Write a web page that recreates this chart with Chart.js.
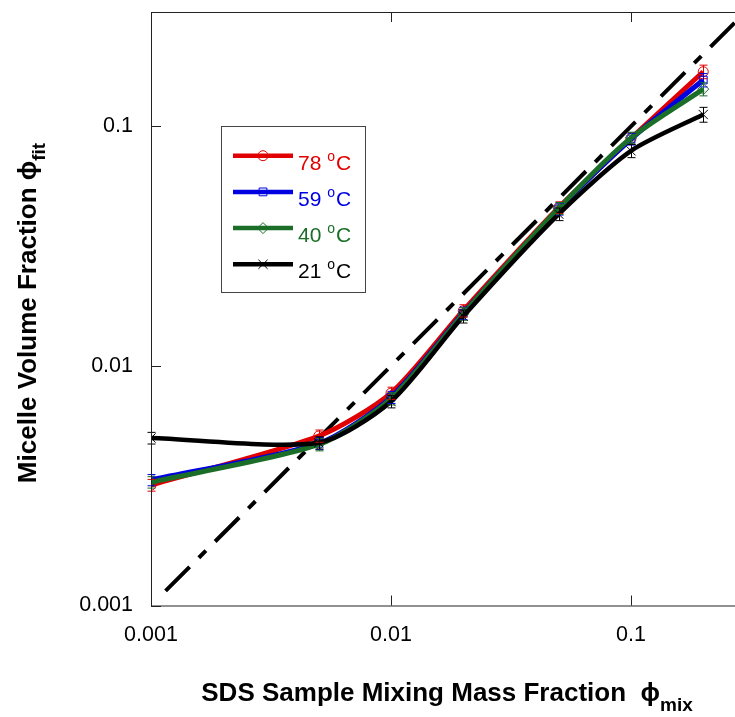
<!DOCTYPE html>
<html>
<head>
<meta charset="utf-8">
<script src="https://cdn.jsdelivr.net/npm/chart.js@4.4.0/dist/chart.umd.min.js"></script>
<style>
  html, body { margin: 0; padding: 0; background: #fff; overflow: hidden; }
  #wrap { width: 760px; height: 717px; }
</style>
</head>
<body>
<div id="wrap"><canvas id="chart" width="760" height="717"></canvas></div>
<script>
//Datos
const mixFraction = [0.001, 0.005, 0.01, 0.02, 0.05, 0.1, 0.2];
const phi78 = [0.00318, 0.0051, 0.0077, 0.0170, 0.0458, 0.0890, 0.169];
const phi59 = [0.00334, 0.00475, 0.0074, 0.0166, 0.0452, 0.0885, 0.156];
const phi40 = [0.00327, 0.00470, 0.0073, 0.0165, 0.0455, 0.0895, 0.143];
const phi21 = [0.00500, 0.00478, 0.0071, 0.0161, 0.0430, 0.0790, 0.112];
const err78 = [0.00018, 0.00030, 0.00045, 0.0010, 0.0026, 0.0050, 0.011];
const err59 = [0.00018, 0.00028, 0.00043, 0.0010, 0.0026, 0.0050, 0.010];
const err40 = [0.00018, 0.00028, 0.00043, 0.0010, 0.0026, 0.0050, 0.009];
const err21 = [0.00028, 0.00028, 0.00042, 0.0010, 0.0026, 0.0050, 0.008];
const diagX = [0.00115, 0.3];
const diagY = [0.00115, 0.3];
const temps = ["78", "59", "40", "21"];
const tickValues = [0.001, 0.01, 0.1];
const tickLabels = ["0.001", "0.01", "0.1"];

const colors = ["#e00000", "#0000e0", "#1a6e28", "#000000"];
const styles = ["circle", "rect", "rectRot", "crossRot"];
const radii = [5, 5.5, 5.5, 6.5];
const FONT = "'Liberation Sans', Arial, 'DejaVu Sans', sans-serif";

Chart.defaults.font.family = FONT;
Chart.defaults.color = "#000";

const toPoints = (xs, ys) => xs.map((v, i) => ({ x: v, y: ys[i] }));
const seriesY = [phi78, phi59, phi40, phi21];
const seriesErr = [err78, err59, err40, err21];

const datasets = seriesY.map((ys, i) => ({
  label: temps[i] + " °C",
  data: toPoints(mixFraction, ys),
  errors: seriesErr[i],
  borderColor: colors[i],
  backgroundColor: colors[i],
  borderWidth: i === 3 ? 4.5 : 5,
  tension: 0.25,
  pointStyle: styles[i],
  pointRadius: radii[i],
  pointBorderWidth: 1,
  pointBackgroundColor: "rgba(0,0,0,0)",
  pointBorderColor: colors[i],
  order: 4 - i,
}));

datasets.push({
  label: "y = x",
  data: toPoints(diagX, diagY),
  borderColor: "#000",
  borderWidth: 4,
  borderDash: [34, 13, 10, 13],
  pointRadius: 0,
  tension: 0,
  order: 5,
});

//Barras de error
const errorBars = {
  id: "errorBars",
  afterDatasetsDraw(chart) {
    const ctx = chart.ctx;
    const xs = chart.scales.x, ys = chart.scales.y;
    chart.data.datasets.forEach(ds => {
      if (!ds.errors) return;
      ctx.save();
      ctx.strokeStyle = ds.borderColor;
      ctx.lineWidth = 1;
      ctx.beginPath();
      ds.data.forEach((p, i) => {
        const px = Math.round(xs.getPixelForValue(p.x)) + 0.5;
        const top = ys.getPixelForValue(p.y + ds.errors[i]);
        const bot = ys.getPixelForValue(p.y - ds.errors[i]);
        ctx.moveTo(px, top); ctx.lineTo(px, bot);
        ctx.moveTo(px - 4, top); ctx.lineTo(px + 4, top);
        ctx.moveTo(px - 4, bot); ctx.lineTo(px + 4, bot);
      });
      ctx.stroke();
      ctx.restore();
    });
  }
};

//Texto con subindice
function composite(ctx, parts, cx, baseY) {
  let total = 0;
  parts.forEach(p => { ctx.font = p.font; p.w = ctx.measureText(p.text).width; total += p.w; });
  let x = cx - total / 2;
  ctx.textAlign = "left";
  ctx.textBaseline = "alphabetic";
  parts.forEach(p => {
    ctx.font = p.font;
    ctx.fillText(p.text, x, baseY + (p.dy || 0));
    x += p.w;
  });
}

//Marco, ticks hacia dentro, titulos y leyenda
const frame = {
  id: "frame",
  afterDraw(chart) {
    const { ctx, chartArea: a, scales: { x, y } } = chart;
    ctx.save();
    ctx.strokeStyle = "#222";
    ctx.lineWidth = 1;
    ctx.strokeRect(a.left + 0.5, a.top + 0.5, a.right - a.left, a.bottom - a.top);
    ctx.beginPath();
    tickValues.forEach(v => {
      const px = Math.round(x.getPixelForValue(v)) + 0.5;
      ctx.moveTo(px, a.bottom); ctx.lineTo(px, a.bottom - 10);
      ctx.moveTo(px, a.top); ctx.lineTo(px, a.top + 10);
      const py = Math.round(y.getPixelForValue(v)) + 0.5;
      ctx.moveTo(a.left, py); ctx.lineTo(a.left + 10, py);
      ctx.moveTo(a.right, py); ctx.lineTo(a.right - 10, py);
    });
    ctx.stroke();

    ctx.fillStyle = "#000";
    composite(ctx, [
      { text: "SDS Sample Mixing Mass Fraction  ", font: "bold 26px " + FONT },
      { text: "ϕ", font: "bold 26px " + FONT },
      { text: "mix", font: "bold 19px " + FONT, dy: 10 },
    ], 447, 701);

    ctx.save();
    ctx.translate(36, 313);
    ctx.rotate(-Math.PI / 2);
    composite(ctx, [
      { text: "Micelle Volume Fraction ", font: "bold 26px " + FONT },
      { text: "ϕ", font: "bold 26px " + FONT },
      { text: "fit", font: "bold 19px " + FONT, dy: 9 },
    ], 0, 0);
    ctx.restore();

    //Leyenda
    ctx.fillStyle = "#fff";
    ctx.fillRect(221.5, 126.5, 144, 166);
    ctx.strokeStyle = "#444";
    ctx.lineWidth = 1;
    ctx.strokeRect(221.5, 126.5, 144, 166);
    temps.forEach((t, i) => {
      const yy = 155.7 + i * 36.2;
      ctx.strokeStyle = colors[i];
      ctx.lineWidth = 4.5;
      ctx.beginPath(); ctx.moveTo(233, yy); ctx.lineTo(293, yy); ctx.stroke();
      ctx.lineWidth = 1;
      ctx.fillStyle = "rgba(0,0,0,0)";
      Chart.helpers.drawPoint(ctx, { pointStyle: styles[i], radius: radii[i], borderWidth: 1, rotation: 0 }, 263, yy);
      ctx.fillStyle = colors[i];
      ctx.textAlign = "left";
      ctx.textBaseline = "alphabetic";
      ctx.font = "21px " + FONT;
      let tx = 298;
      ctx.fillText(t + " ", tx, yy + 14);
      tx += ctx.measureText(t + " ").width;
      ctx.font = "14px " + FONT;
      ctx.fillText("o", tx, yy + 5);
      tx += ctx.measureText("o").width + 1;
      ctx.font = "21px " + FONT;
      ctx.fillText("C", tx, yy + 14);
    });
    ctx.restore();
  }
};

const noPad = s => { s.paddingTop = 0; s.paddingBottom = 0; s.paddingLeft = 0; s.paddingRight = 0; };

const ctx = document.getElementById("chart").getContext("2d");
const chart = new Chart(ctx, {
  type: "line",
  data: { datasets: datasets },
  options: {
    responsive: false,
    animation: false,
    layout: { padding: { top: 12, right: 14.5, left: 0, bottom: 0 } },
    plugins: { legend: { display: false }, tooltip: { enabled: false } },
    scales: {
      x: {
        type: "logarithmic",
        min: 0.001,
        max: 0.3,
        grid: { display: false },
        border: { display: false },
        afterBuildTicks: s => { s.ticks = tickValues.map(v => ({ value: v })); },
        afterFit: s => { s.height = 111.5; noPad(s); },
        ticks: { autoSkip: false, maxRotation: 0, padding: 9, color: "#000", font: { size: 21.5 },
                 callback: (v, i) => tickLabels[i] },
      },
      y: {
        type: "logarithmic",
        min: 0.001,
        max: 0.3,
        grid: { display: false },
        border: { display: false },
        afterBuildTicks: s => { s.ticks = tickValues.map(v => ({ value: v })); },
        afterFit: s => { s.width = 151; noPad(s); },
        ticks: { autoSkip: false, padding: 10, color: "#000", font: { size: 21.5 },
                 callback: (v, i) => tickLabels[i] },
      },
    },
  },
  plugins: [errorBars, frame],
});
</script>
</body>
</html>
